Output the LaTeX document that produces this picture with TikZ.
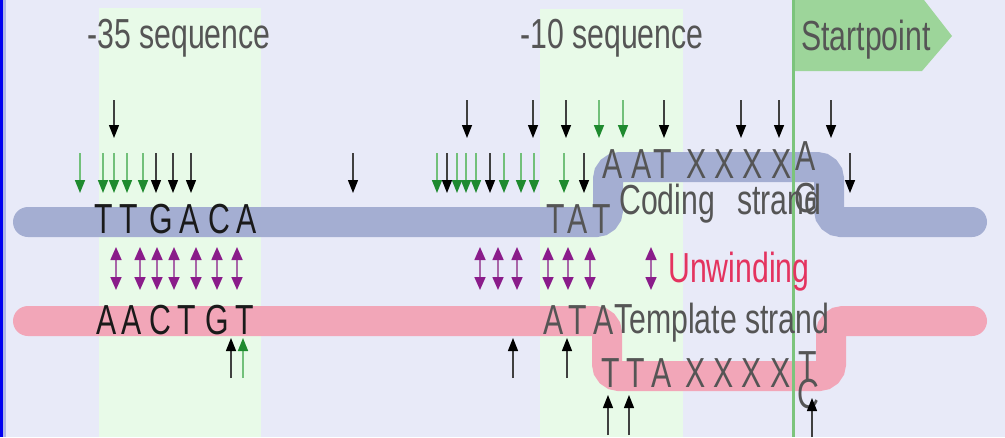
\documentclass[tikz,border=0pt]{standalone}
\usepackage{fontspec}
\newfontfamily\condsans[FakeStretch=0.72]{Liberation Sans}
\usetikzlibrary{arrows.meta}
\definecolor{bgc}{HTML}{E8EAF8}
\definecolor{boxc}{HTML}{E8FAE8}
\definecolor{bluec}{HTML}{A4AED2}
\definecolor{pinkc}{HTML}{F2A6B8}
\definecolor{flagc}{HTML}{9DD59A}
\definecolor{startc}{HTML}{7CC47C}
\definecolor{greyt}{HTML}{555555}
\definecolor{darkt}{HTML}{1A1A1A}
\definecolor{redt}{HTML}{E4335F}
\definecolor{purc}{HTML}{8A1C8A}
\definecolor{purl}{HTML}{A865A8}
\definecolor{grnl}{HTML}{72C07A}
\definecolor{grnh}{HTML}{1F8A2F}
\definecolor{edgeb}{HTML}{0000F0}
\definecolor{edgel}{HTML}{B0B8E8}
\newcommand\labfont{\condsans\fontsize{42}{42}\selectfont}
\begin{document}
\begin{tikzpicture}[x=1pt,y=-1pt,
  lbl/.style={inner sep=0pt, font=\labfont, text=greyt},
  ntd/.style={inner sep=0pt, font=\labfont, text=darkt, anchor=base},
  ntg/.style={inner sep=0pt, font=\labfont, text=greyt, anchor=base},
  blkar/.style={draw=black!75, line width=1.4pt, -{Triangle[length=13pt,width=10pt,color=black]}},
  grnar/.style={draw=grnl, line width=1.6pt, -{Triangle[length=13pt,width=10pt,color=grnh]}},
  purar/.style={draw=purl, line width=1.6pt, {Triangle[length=13pt,width=11pt,color=purc]}-{Triangle[length=13pt,width=11pt,color=purc]}},
  strand/.style={line width=30pt, line cap=round, rounded corners=12pt}
]
\useasboundingbox (0,0) rectangle (1005,437);
\fill[bgc] (0,0) rectangle (1005,437);
\fill[edgeb] (0,0) rectangle (3,437);
\fill[edgel] (3,0) rectangle (6,437);
% shaded consensus regions
\fill[boxc] (99,8) rectangle (261,437);
\fill[boxc] (540,9) rectangle (683,437);
% strands
\draw[strand, draw=bluec] (28,222) -- (608,222) -- (608,167) -- (829,167) -- (829,222) -- (972,222);
\draw[strand, draw=pinkc] (28,321) -- (607,321) -- (607,376) -- (831,376) -- (831,321) -- (972,321);
% startpoint
\draw[startc, line width=3pt] (793.5,0) -- (793.5,437);
\fill[flagc] (795,0) -- (924,0) -- (952,36) -- (922,71) -- (795,71) -- cycle;
% labels
\node[lbl, anchor=base west] (lab35) at (87,48) {-35 sequence};
\node[lbl, anchor=base west] (lab10) at (520,48) {-10 sequence};
\node[lbl, anchor=base west] (labstart) at (801,50) {Startpoint};
\node[lbl, anchor=base west] (labcoding) at (619,214) {Coding\,\, strand};
\node[lbl, anchor=base west] (labtemplate) at (614,333) {Template strand};
\node[lbl, anchor=base west, text=redt] (labunwind) at (668,282) {Unwinding};
% coding strand letters
\foreach \xx/\ltr [count=\i] in {104/T,129/T,161/G,190/A,219/C,247/A}
  \node[ntd] (cm\i) at (\xx,233) {\ltr};
\foreach \xx/\ltr [count=\i] in {556/T,578/A,602/T}
  \node[ntg] (ct\i) at (\xx,233) {\ltr};
\foreach \xx/\ltr [count=\i] in {613/A,642/A,663/T,697/X,725/X,753/X,782/X}
  \node[ntg] (cu\i) at (\xx,178) {\ltr};
\node[ntg] (csa) at (806,170) {A};
\node[ntg] (csg) at (806,212) {G};
% template strand letters
\foreach \xx/\ltr [count=\i] in {107/A,132/A,160/C,187/T,217/G,245/T}
  \node[ntd] (tm\i) at (\xx,334) {\ltr};
\foreach \xx/\ltr [count=\i] in {554/A,578/T,604/A}
  \node[ntg] (tt\i) at (\xx,334) {\ltr};
\foreach \xx/\ltr [count=\i] in {611/T,636/T,662/A,696/X,724/X,752/X,781/X}
  \node[ntg] (tl\i) at (\xx,387) {\ltr};
\node[ntg] (tst) at (808,380) {T};
\node[ntg] (tsc) at (808,408) {C};
% arrows onto coding strand (top row)
\foreach \xx in {114,467,533,566,664,741,779,831}
  \draw[blkar] (\xx,100) -- (\xx,138);
\foreach \xx in {599,623}
  \draw[grnar] (\xx,100) -- (\xx,138);
% arrows onto coding strand (second row)
\foreach \xx in {80,103,114,127,143,437,457,466,476,504,521,534,564}
  \draw[grnar] (\xx,153) -- (\xx,193);
\foreach \xx in {156,173,191,353,447,490,584,850}
  \draw[blkar] (\xx,153) -- (\xx,193);
% arrows onto template strand
\foreach \xx in {231,513,567}
  \draw[blkar] (\xx,378) -- (\xx,338);
\draw[grnar] (243,378) -- (243,338);
\foreach \xx in {608,629}
  \draw[blkar] (\xx,435) -- (\xx,395);
\draw[blkar] (812,437) -- (812,398);
% unwinding double arrows
\foreach \xx in {116,140,157,174,196,217,237,480,498,517,548,568,590,651}
  \draw[purar] (\xx,247) -- (\xx,290);
\end{tikzpicture}
\end{document}
